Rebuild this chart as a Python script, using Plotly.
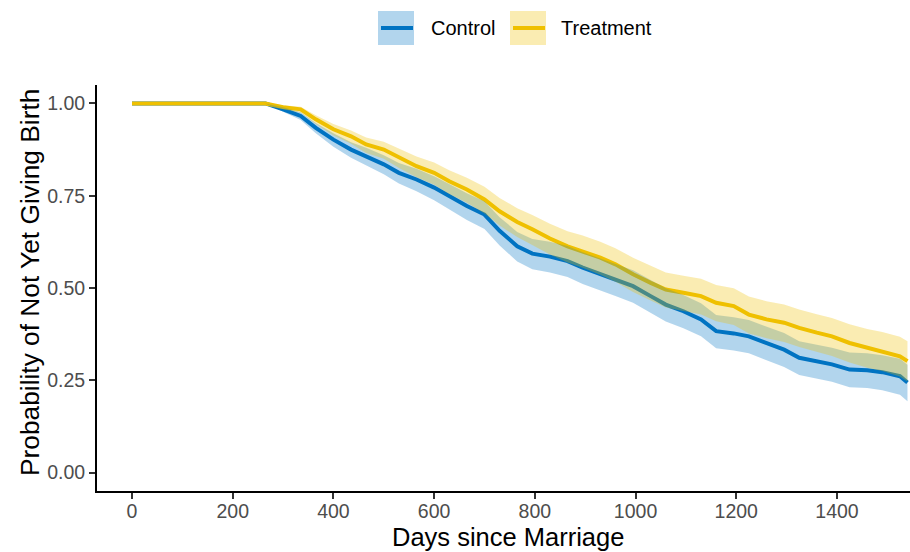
import numpy as np
import plotly.graph_objects as go

# ---- data (Kaplan-Meier estimates with CI) ----
days = [0, 265, 300, 335, 365, 400, 435, 465, 500, 530, 565, 600, 630, 665, 700,
        730, 765, 795, 830, 865, 895, 930, 960, 995, 1030, 1060, 1095, 1130, 1160,
        1195, 1225, 1260, 1295, 1325, 1360, 1390, 1425, 1460, 1490, 1525, 1540]

control_surv = [1.000, 1.000, 0.984, 0.966, 0.934, 0.902, 0.875, 0.857, 0.835, 0.812,
                0.794, 0.772, 0.749, 0.722, 0.699, 0.655, 0.613, 0.593, 0.585, 0.573,
                0.555, 0.537, 0.523, 0.505, 0.478, 0.455, 0.437, 0.415, 0.383, 0.377,
                0.369, 0.351, 0.333, 0.311, 0.302, 0.293, 0.279, 0.277, 0.272, 0.261, 0.244]
control_lo = [1.000, 1.000, 0.977, 0.955, 0.919, 0.883, 0.853, 0.832, 0.808, 0.783,
              0.762, 0.738, 0.713, 0.684, 0.660, 0.615, 0.572, 0.551, 0.542, 0.530,
              0.511, 0.493, 0.478, 0.460, 0.433, 0.409, 0.391, 0.369, 0.337, 0.331,
              0.323, 0.305, 0.286, 0.264, 0.255, 0.246, 0.231, 0.229, 0.223, 0.211, 0.193]
control_hi = [1.000, 1.000, 0.990, 0.976, 0.947, 0.919, 0.895, 0.880, 0.860, 0.839,
              0.823, 0.803, 0.782, 0.757, 0.735, 0.692, 0.652, 0.633, 0.625, 0.614,
              0.597, 0.580, 0.566, 0.548, 0.522, 0.499, 0.481, 0.459, 0.427, 0.421,
              0.413, 0.395, 0.378, 0.356, 0.347, 0.338, 0.325, 0.323, 0.318, 0.308, 0.292]

treat_surv = [1.000, 1.000, 0.990, 0.984, 0.957, 0.930, 0.911, 0.889, 0.875, 0.853,
              0.830, 0.812, 0.789, 0.767, 0.740, 0.708, 0.679, 0.659, 0.634, 0.613,
              0.600, 0.582, 0.564, 0.537, 0.514, 0.496, 0.487, 0.478, 0.460, 0.451,
              0.428, 0.415, 0.406, 0.392, 0.379, 0.369, 0.351, 0.338, 0.329, 0.315, 0.302]
treat_lo = [1.000, 1.000, 0.984, 0.975, 0.944, 0.913, 0.891, 0.866, 0.850, 0.825,
            0.800, 0.780, 0.755, 0.731, 0.702, 0.669, 0.638, 0.617, 0.591, 0.569,
            0.555, 0.536, 0.517, 0.489, 0.466, 0.447, 0.438, 0.428, 0.410, 0.400,
            0.377, 0.364, 0.354, 0.340, 0.327, 0.316, 0.298, 0.284, 0.275, 0.260, 0.247]
treat_hi = [1.000, 1.000, 0.995, 0.991, 0.968, 0.944, 0.927, 0.908, 0.896, 0.877,
            0.856, 0.840, 0.819, 0.799, 0.774, 0.744, 0.716, 0.698, 0.674, 0.654,
            0.642, 0.625, 0.608, 0.582, 0.560, 0.542, 0.533, 0.525, 0.508, 0.499,
            0.477, 0.464, 0.455, 0.442, 0.429, 0.419, 0.402, 0.389, 0.381, 0.368, 0.356]

x_ticks = [0, 200, 400, 600, 800, 1000, 1200, 1400]
y_ticks = [0.0, 0.25, 0.5, 0.75, 1.0]
y_ticklabels = ["0.00", "0.25", "0.50", "0.75", "1.00"]
groups = ["Control", "Treatment"]

BLUE = "#0073C2"
YELLOW = "#EFC000"
BLUE_F = "rgba(0,115,194,0.3)"
YELLOW_F = "rgba(239,192,0,0.3)"
FONT = "Liberation Sans, Arial, sans-serif"

W, H = 910, 552
ML, MR, MT, MB = 97, 0, 85, 61


def band(x, lo, hi):
    x = np.asarray(x, float)
    return (np.concatenate([x, x[::-1]]),
            np.concatenate([np.asarray(hi, float), np.asarray(lo, float)[::-1]]))


fig = go.Figure()
# lines first (ribbons are drawn on top as in survminer)
fig.add_trace(go.Scatter(x=days, y=control_surv, mode="lines",
                         line=dict(color=BLUE, width=4), name=groups[0],
                         showlegend=False, hoverinfo="skip"))
fig.add_trace(go.Scatter(x=days, y=treat_surv, mode="lines",
                         line=dict(color=YELLOW, width=4), name=groups[1],
                         showlegend=False, hoverinfo="skip"))
bx, by = band(days, control_lo, control_hi)
fig.add_trace(go.Scatter(x=bx, y=by, mode="lines", fill="toself", fillcolor=BLUE_F,
                         line=dict(width=0, color="rgba(0,0,0,0)"), showlegend=False,
                         hoverinfo="skip"))
tx, ty = band(days, treat_lo, treat_hi)
fig.add_trace(go.Scatter(x=tx, y=ty, mode="lines", fill="toself", fillcolor=YELLOW_F,
                         line=dict(width=0, color="rgba(0,0,0,0)"), showlegend=False,
                         hoverinfo="skip"))


def px2paper(px, py):
    return (px - ML) / (W - ML - MR), (H - MB - py) / (H - MT - MB)


shapes = []
annotations = []
# manual legend keys
for (x0, x1, fillc, linec, label, tx_) in [
        (378, 414, BLUE_F, BLUE, groups[0], 429),
        (510, 546, YELLOW_F, YELLOW, groups[1], 559)]:
    a0, b0 = px2paper(x0, 45)
    a1, b1 = px2paper(x1, 11)
    shapes.append(dict(type="rect", xref="paper", yref="paper", x0=a0, x1=a1, y0=b0, y1=b1,
                       fillcolor=fillc, line=dict(width=0), layer="above"))
    la, lb = px2paper(x0 + 3, 28)
    lc, _ = px2paper(x1 - 1, 28)
    shapes.append(dict(type="line", xref="paper", yref="paper", x0=la, x1=lc, y0=lb, y1=lb,
                       line=dict(color=linec, width=4), layer="above"))
    ta, tb = px2paper(tx_, 28)
    annotations.append(dict(text=label, xref="paper", yref="paper", x=ta, y=tb,
                            xanchor="left", yanchor="middle", showarrow=False,
                            font=dict(family=FONT, size=20, color="black")))

# axis titles
xa, xb = px2paper(508, 552)
annotations.append(dict(text="Days since Marriage", xref="paper", yref="paper", x=xa, y=xb,
                        xanchor="center", yanchor="bottom", showarrow=False, borderpad=0,
                        font=dict(family=FONT, size=25.5, color="black")))
ya, yb = px2paper(30, 283)
annotations.append(dict(text="Probability of Not Yet Giving Birth", xref="paper", yref="paper",
                        x=ya, y=yb, xanchor="center", yanchor="middle", textangle=-90,
                        showarrow=False, font=dict(family=FONT, size=26.3, color="black")))

fig.update_layout(
    width=W, height=H,
    margin=dict(l=ML, r=MR, t=MT, b=MB, pad=0),
    paper_bgcolor="white", plot_bgcolor="white",
    showlegend=False,
    shapes=shapes, annotations=annotations,
    font=dict(family=FONT),
)
fig.update_xaxes(range=[-69.5, 1545], tickvals=x_ticks, ticktext=[str(v) for v in x_ticks],
                 showgrid=False, zeroline=False, showline=True, linecolor="black", linewidth=2,
                 ticks="outside", ticklen=6, tickwidth=2, tickcolor="#333333",
                 ticklabelstandoff=-4,
                 tickfont=dict(family=FONT, size=19.5, color="#4D4D4D"))
fig.update_yaxes(range=[-0.05, 1.05], tickvals=y_ticks, ticktext=y_ticklabels,
                 showgrid=False, zeroline=False, showline=True, linecolor="black", linewidth=2,
                 ticks="outside", ticklen=6, tickwidth=2, tickcolor="#333333",
                 tickfont=dict(family=FONT, size=19.5, color="#4D4D4D"))

fig.write_html("out.html",
               config={"displayModeBar": False, "staticPlot": True},
               post_script="document.body.style.margin='0px';"
                           "document.body.style.overflow='hidden';")
